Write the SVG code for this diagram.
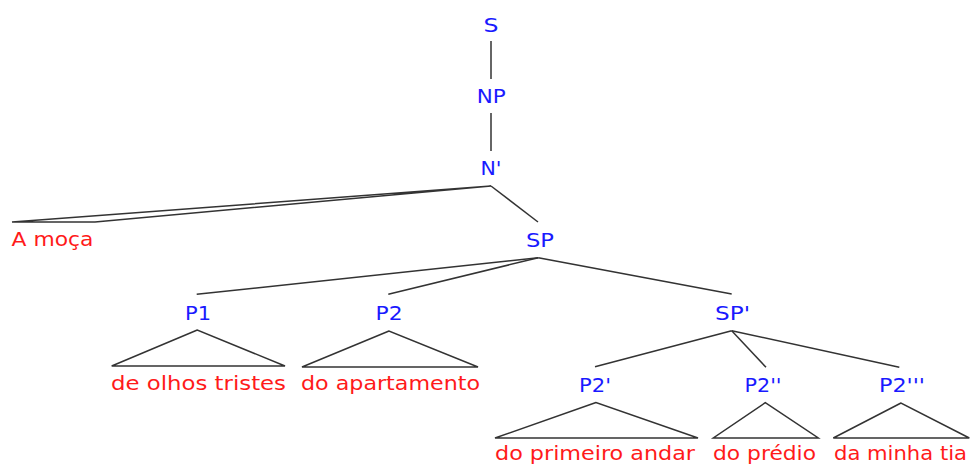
<svg xmlns="http://www.w3.org/2000/svg" width="971" height="468" viewBox="0 0 971 468">
<style>
text{font-family:"DejaVu Sans","Liberation Sans",sans-serif;font-size:19.5px}
.n{fill:#1a1aff;text-anchor:middle}
.l{fill:#ff1a1a}
.e line,.e polygon{stroke:#333;stroke-width:1.5;fill:none}
</style>
<rect width="971" height="468" fill="#fff"/>
<g class="e" id="connectors">
<line x1="491" y1="41" x2="491" y2="79"/>
<line x1="491" y1="113" x2="491" y2="151"/>
<polygon points="491,186 12,222 95,222"/>
<line x1="491" y1="186" x2="538" y2="222"/>
<line x1="538.3" y1="257.7" x2="196.7" y2="294.3"/>
<line x1="538.3" y1="257.7" x2="388.3" y2="294.3"/>
<line x1="538.3" y1="257.7" x2="731.7" y2="294"/>
<polygon points="197.3,330 111.7,366 285,366"/>
<polygon points="389,331 302,367 478,367"/>
<line x1="731.7" y1="330.7" x2="595" y2="366.7"/>
<line x1="731.7" y1="330.7" x2="766" y2="367.3"/>
<line x1="731.7" y1="330.7" x2="899.3" y2="367.3"/>
<polygon points="596,402.5 495,438 698,438"/>
<polygon points="765.3,402.7 713.3,438 818.3,438"/>
<polygon points="901,403 833.3,438 969.3,438"/>
</g>
<g id="S"><text class="n" x="491" y="32" textLength="15" lengthAdjust="spacingAndGlyphs">S</text></g>
<g id="NP"><text class="n" x="491.3" y="103" textLength="29" lengthAdjust="spacingAndGlyphs">NP</text></g>
<g id="Nbar"><text class="n" x="491" y="175" textLength="21" lengthAdjust="spacingAndGlyphs">N'</text></g>
<g id="Amoca"><text class="l" x="11.5" y="246" textLength="82" lengthAdjust="spacingAndGlyphs">A moça</text></g>
<g id="SP"><text class="n" x="540" y="247" textLength="28" lengthAdjust="spacingAndGlyphs">SP</text></g>
<g id="P1"><text class="n" x="198" y="320" textLength="26" lengthAdjust="spacingAndGlyphs">P1</text></g>
<g id="P2"><text class="n" x="389" y="320" textLength="27" lengthAdjust="spacingAndGlyphs">P2</text></g>
<g id="SPbar"><text class="n" x="732.5" y="319.5" textLength="35" lengthAdjust="spacingAndGlyphs">SP'</text></g>
<g id="olhos"><text class="l" x="111" y="390" textLength="175" lengthAdjust="spacingAndGlyphs">de olhos tristes</text></g>
<g id="apartamento"><text class="l" x="301" y="390" textLength="179" lengthAdjust="spacingAndGlyphs">do apartamento</text></g>
<g id="P2a"><text class="n" x="595" y="392" textLength="32" lengthAdjust="spacingAndGlyphs">P2'</text></g>
<g id="P2b"><text class="n" x="763" y="392" textLength="37" lengthAdjust="spacingAndGlyphs">P2''</text></g>
<g id="P2c"><text class="n" x="902" y="392" textLength="46" lengthAdjust="spacingAndGlyphs">P2'''</text></g>
<g id="andar"><text class="l" x="495" y="460" textLength="200" lengthAdjust="spacingAndGlyphs">do primeiro andar</text></g>
<g id="predio"><text class="l" x="713" y="460" textLength="103" lengthAdjust="spacingAndGlyphs">do prédio</text></g>
<g id="tia"><text class="l" x="834" y="460" textLength="133" lengthAdjust="spacingAndGlyphs">da minha tia</text></g>
</svg>
